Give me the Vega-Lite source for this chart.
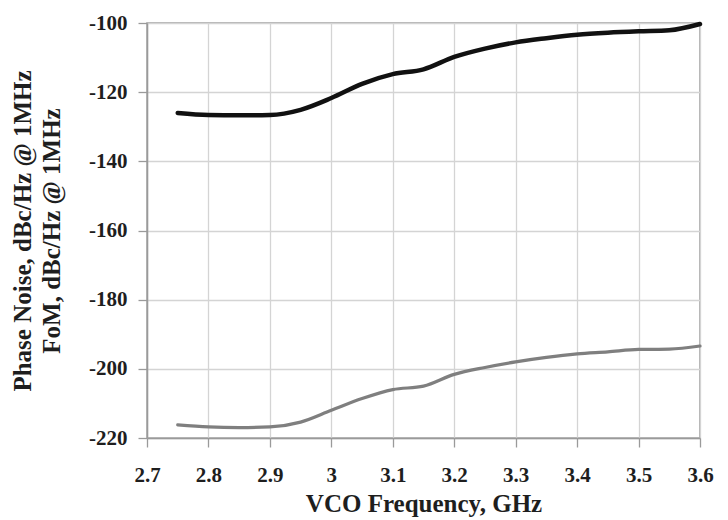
{
  "$schema": "https://vega.github.io/schema/vega-lite/v6.json",
  "width": 553,
  "height": 415,
  "autosize": "none",
  "padding": {"left": 147, "top": 23, "right": 28, "bottom": 82},
  "background": "white",
  "config": {
    "view": {"stroke": "#9a9a9a", "strokeWidth": 1.5},
    "axis": {
      "labelFont": "Liberation Serif",
      "titleFont": "Liberation Serif",
      "labelFontWeight": "bold",
      "titleFontWeight": "bold",
      "labelFontSize": 21,
      "titleFontSize": 25,
      "labelColor": "#1e1e1e",
      "titleColor": "#1e1e1e",
      "labelFlush": false,
      "gridColor": "#d4d4d4",
      "gridWidth": 1.3,
      "domainColor": "#9a9a9a",
      "domainWidth": 1.5,
      "tickColor": "#9a9a9a",
      "tickSize": 9,
      "tickWidth": 1.3
    }
  },
  "data": {
    "values": [
      {"f": 2.75, "v": -126.0, "s": "Phase Noise"},
      {"f": 2.8, "v": -126.6, "s": "Phase Noise"},
      {"f": 2.85, "v": -126.7, "s": "Phase Noise"},
      {"f": 2.9, "v": -126.6, "s": "Phase Noise"},
      {"f": 2.95, "v": -125.1, "s": "Phase Noise"},
      {"f": 3.0, "v": -121.7, "s": "Phase Noise"},
      {"f": 3.05, "v": -117.6, "s": "Phase Noise"},
      {"f": 3.1, "v": -114.8, "s": "Phase Noise"},
      {"f": 3.15, "v": -113.4, "s": "Phase Noise"},
      {"f": 3.2, "v": -109.8, "s": "Phase Noise"},
      {"f": 3.25, "v": -107.4, "s": "Phase Noise"},
      {"f": 3.3, "v": -105.6, "s": "Phase Noise"},
      {"f": 3.35, "v": -104.4, "s": "Phase Noise"},
      {"f": 3.4, "v": -103.4, "s": "Phase Noise"},
      {"f": 3.45, "v": -102.8, "s": "Phase Noise"},
      {"f": 3.5, "v": -102.4, "s": "Phase Noise"},
      {"f": 3.55, "v": -102.1, "s": "Phase Noise"},
      {"f": 3.6, "v": -100.3, "s": "Phase Noise"},
      {"f": 2.75, "v": -216.2, "s": "FoM"},
      {"f": 2.8, "v": -216.8, "s": "FoM"},
      {"f": 2.85, "v": -217.0, "s": "FoM"},
      {"f": 2.9, "v": -216.8, "s": "FoM"},
      {"f": 2.95, "v": -215.4, "s": "FoM"},
      {"f": 3.0, "v": -212.0, "s": "FoM"},
      {"f": 3.05, "v": -208.6, "s": "FoM"},
      {"f": 3.1, "v": -206.0, "s": "FoM"},
      {"f": 3.15, "v": -205.0, "s": "FoM"},
      {"f": 3.2, "v": -201.6, "s": "FoM"},
      {"f": 3.25, "v": -199.6, "s": "FoM"},
      {"f": 3.3, "v": -198.0, "s": "FoM"},
      {"f": 3.35, "v": -196.7, "s": "FoM"},
      {"f": 3.4, "v": -195.7, "s": "FoM"},
      {"f": 3.45, "v": -195.1, "s": "FoM"},
      {"f": 3.5, "v": -194.4, "s": "FoM"},
      {"f": 3.55, "v": -194.3, "s": "FoM"},
      {"f": 3.6, "v": -193.4, "s": "FoM"}
    ]
  },
  "mark": {"type": "line", "interpolate": "monotone", "strokeCap": "round"},
  "encoding": {
    "x": {
      "field": "f",
      "type": "quantitative",
      "scale": {"domain": [2.7, 3.6], "nice": false, "zero": false},
      "axis": {
        "values": [2.7, 2.8, 2.9, 3.0, 3.1, 3.2, 3.3, 3.4, 3.5, 3.6],
        "format": ".2~f",
        "title": "VCO Frequency, GHz",
        "labelPadding": 17,
        "titlePadding": 6
      }
    },
    "y": {
      "field": "v",
      "type": "quantitative",
      "scale": {"domain": [-220, -100], "nice": false, "zero": false},
      "axis": {
        "values": [-220, -200, -180, -160, -140, -120, -100],
        "labelExpr": "'-' + abs(datum.value)",
        "title": ["Phase Noise, dBc/Hz @ 1MHz", "FoM, dBc/Hz @ 1MHz"],
        "titleLineHeight": 29,
        "labelPadding": 11,
        "titlePadding": 24
      }
    },
    "color": {
      "field": "s",
      "type": "nominal",
      "scale": {"domain": ["Phase Noise", "FoM"], "range": ["#111111", "#7f7f7f"]},
      "legend": null
    },
    "strokeWidth": {
      "field": "s",
      "type": "nominal",
      "scale": {"domain": ["Phase Noise", "FoM"], "range": [4.5, 3.2]},
      "legend": null
    }
  }
}
